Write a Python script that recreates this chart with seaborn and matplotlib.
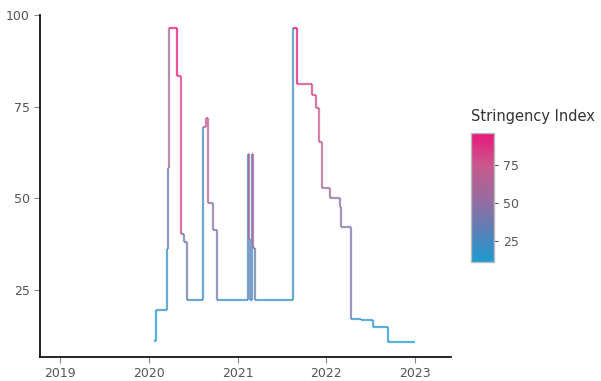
import numpy as np
import pandas as pd
import matplotlib
matplotlib.use('Agg')
import matplotlib.pyplot as plt
import matplotlib.dates as mdates
from matplotlib.collections import LineCollection
from matplotlib.colors import LinearSegmentedColormap, Normalize
import seaborn as sns

# Stringency index (step changes)
dates = ['2020-01-24', '2020-02-02', '2020-03-16', '2020-03-21', '2020-03-24',
         '2020-04-25', '2020-05-13', '2020-05-24', '2020-06-08', '2020-08-12',
         '2020-08-22', '2020-08-31', '2020-09-21', '2020-10-07', '2021-02-14',
         '2021-02-17', '2021-02-22', '2021-02-28', '2021-03-07', '2021-03-12',
         '2021-08-17', '2021-09-03', '2021-11-04', '2021-11-18', '2021-12-02',
         '2021-12-12', '2022-01-15', '2022-02-25', '2022-03-01', '2022-04-12',
         '2022-05-24', '2022-07-13', '2022-09-10', '2022-12-31']
values = [11.11, 19.44, 36.11, 58.33, 96.30,
          83.33, 40.28, 37.96, 22.22, 69.44,
          71.76, 48.61, 41.20, 22.22, 62.04,
          38.89, 22.22, 62.04, 36.40, 22.22,
          96.30, 81.02, 78.24, 74.54, 65.28,
          52.78, 50.00, 47.69, 42.13, 17.13,
          16.67, 14.81, 10.86, 10.86]
year_ticks = ['2019', '2020', '2021', '2022', '2023']
y_ticks = [25, 50, 75, 100]
cbar_ticks = [25, 50, 75]

sns.set_style('ticks')
plt.rcParams['font.family'] = ['DejaVu Sans']

df = pd.DataFrame({'date': pd.to_datetime(dates), 'value': values})

cmap = LinearSegmentedColormap.from_list('si', ['#1b9bd1', '#5d7fb6', '#9a6b9e', '#c9588c', '#e8177b'])
norm = Normalize(df['value'].min(), df['value'].max())

# build step path (post) and colour each piece by its start value
xs = mdates.date2num(df['date'])
ys = df['value'].values
segs, cols = [], []
for i in range(len(xs) - 1):
    segs.append([(xs[i], ys[i]), (xs[i + 1], ys[i])])
    cols.append(ys[i])
    segs.append([(xs[i + 1], ys[i]), (xs[i + 1], ys[i + 1])])
    cols.append(ys[i])

fig = plt.figure(figsize=(6.01, 3.81), dpi=100)
ax = fig.add_axes([0.0666, 0.063, 0.684, 0.898])
lc = LineCollection(segs, cmap=cmap, norm=norm, linewidths=1.6, alpha=0.75)
lc.set_array(np.array(cols))
ax.add_collection(lc)

ax.set_xlim(pd.Timestamp('2018-10-11'), pd.Timestamp('2023-05-29'))
ax.set_ylim(6.7, 100)
ax.set_xticks(pd.to_datetime([y + '-01-01' for y in year_ticks]))
ax.set_xticklabels(year_ticks)
ax.set_yticks(y_ticks)
ax.tick_params(colors='#555555', labelsize=9, length=4, width=0.8)
ax.tick_params(axis='both', color='#888888')
for s in ['left', 'bottom']:
    ax.spines[s].set_color('black')
    ax.spines[s].set_linewidth(1.2)
sns.despine(ax=ax)

cax = fig.add_axes([0.784, 0.312, 0.038, 0.339])
sm = plt.cm.ScalarMappable(norm=norm, cmap=cmap)
cb = fig.colorbar(sm, cax=cax, ticks=cbar_ticks)
cb.outline.set_edgecolor('#bbbbbb')
cb.outline.set_linewidth(1)
cax.tick_params(labelsize=9, colors='#555555', length=3, width=0.8)
fig.text(0.784, 0.675, 'Stringency Index', fontsize=10.5, color='#333333', ha='left', va='bottom')

fig.savefig('out.png', dpi=100)
